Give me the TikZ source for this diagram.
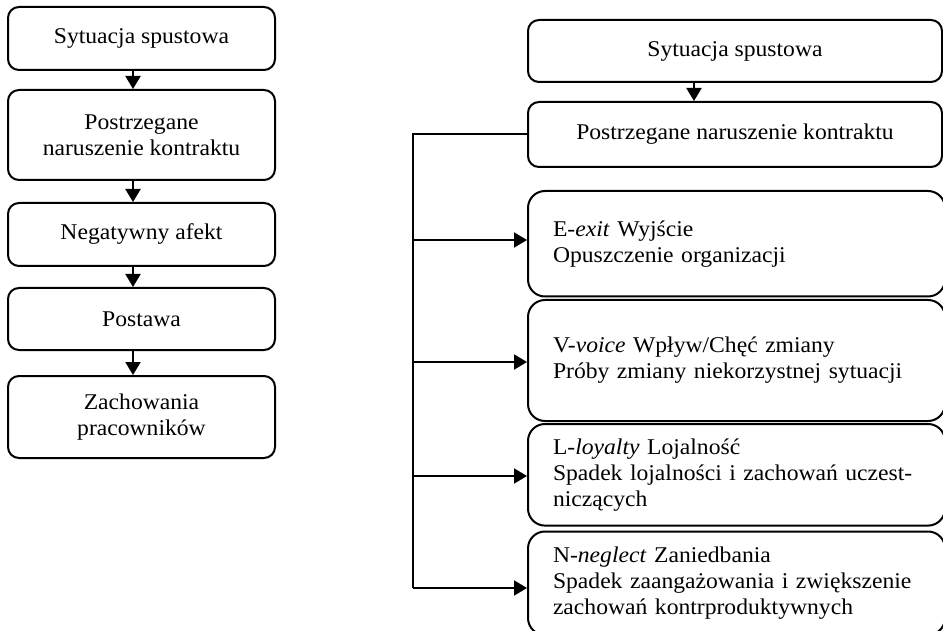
\documentclass[tikz,border=0pt]{standalone}
\usepackage{fontspec}
\setmainfont{Liberation Serif}[FakeStretch=1.05]
\usetikzlibrary{arrows.meta}
\begin{document}
\begin{tikzpicture}[x=1pt,y=-1pt,
  every node/.style={font=\fontsize{22.5}{26}\selectfont},
  flowbox/.style={draw, line width=2pt, rounded corners=11pt, align=center, inner sep=0pt},
  leftbox/.style={flowbox, minimum width=267pt},
  topbox/.style={flowbox, minimum width=414pt},
  optbox/.style={draw, line width=2pt, rounded corners=17pt, align=left,
    text width=367pt, inner xsep=25pt, inner ysep=0pt},
  link/.style={line width=2pt, -{Triangle[length=13pt,width=15pt]}},
  trunk/.style={line width=2pt},
]
\clip (0,0) rectangle (943,631);

% left-hand chain
\node[leftbox, minimum height=63pt] (a1) at (141.5,38.5) {Sytuacja spustowa};
\node[leftbox, minimum height=90pt] (a2) at (141.5,135) {Postrzegane\\naruszenie kontraktu};
\node[leftbox, minimum height=63pt] (a3) at (141.5,234.5) {Negatywny afekt};
\node[leftbox, minimum height=62pt] (a4) at (141.5,319) {Postawa};
\node[leftbox, minimum height=82pt] (a5) at (141.5,417) {Zachowania\\pracowników};

\foreach \u/\v in {a1/a2,a2/a3,a3/a4,a4/a5}
  \draw[link] ([xshift=-8.5pt]\u.south) -- ([xshift=-8.5pt]\v.north);

% right-hand scheme
\node[topbox, minimum height=62pt] (b1) at (735,51) {Sytuacja spustowa};
\node[topbox, minimum height=65pt] (b2) at (735,134.5) {Postrzegane naruszenie kontraktu};
\draw[link] ([xshift=-41pt]b1.south) -- ([xshift=-41pt]b2.north);

\node[optbox, minimum height=105.5pt] (e) at (736.5,243.75)
  {E-\textit{exit} Wyjście\\Opuszczenie organizacji};
\node[optbox, minimum height=121pt] (v) at (736.5,360.5)
  {V-\textit{voice} Wpływ/Chęć zmiany\\Próby zmiany niekorzystnej sytuacji};
\node[optbox, minimum height=101.6pt] (l) at (736.5,474.8)
  {L-\textit{loyalty} Lojalność\\Spadek lojalności i zachowań uczest-\\niczących};
\node[optbox, minimum height=103.5pt] (n) at (736.5,583.25)
  {N-\textit{neglect} Zaniedbania\\Spadek zaangażowania i zwiększenie\\zachowań kontrproduktywnych};

% branching connector
\coordinate (te) at (413,240);
\coordinate (tv) at (413,362);
\coordinate (tl) at (413,476);
\coordinate (tn) at (413,588);
\draw[trunk] (b2.west) -| (tn);
\foreach \t/\b in {te/e,tv/v,tl/l,tn/n}
  \draw[link] (\t) -- (\t -| \b.west);
\end{tikzpicture}
\end{document}
